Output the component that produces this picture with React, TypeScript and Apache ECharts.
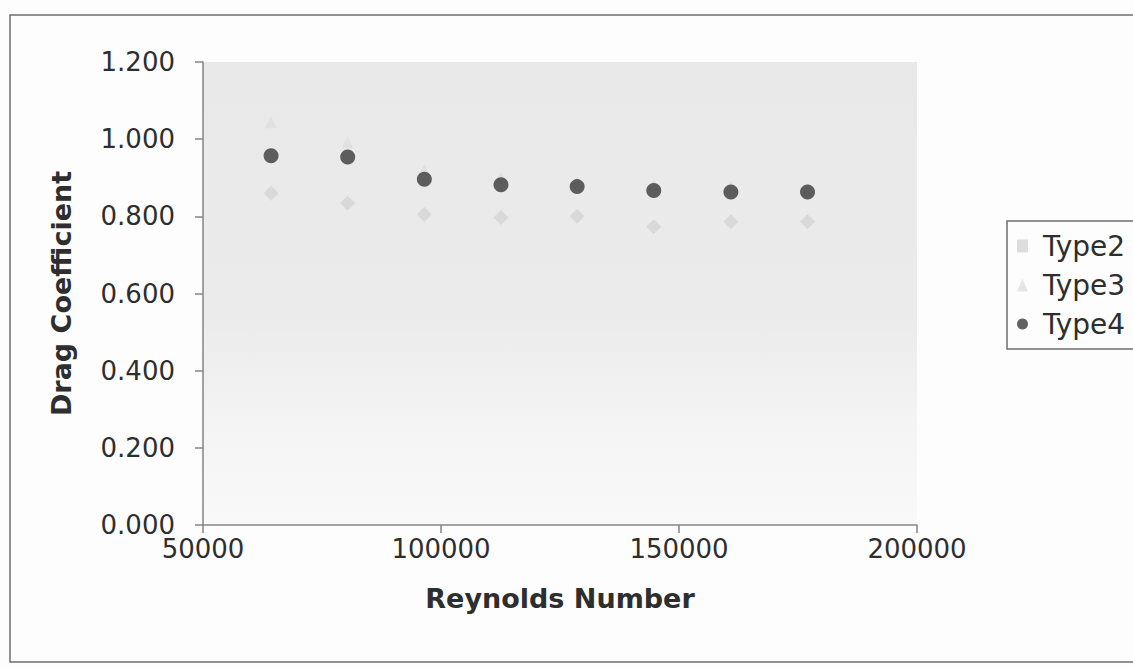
import React, { useEffect, useRef } from "react";
import * as echarts from "echarts";

const reynolds = [64300, 80400, 96500, 112600, 128600, 144700, 160900, 177000];
const type2 = [0.86, 0.834, 0.805, 0.797, 0.8, 0.773, 0.786, 0.786];
const type3 = [1.044, 0.992, 0.92, 0.9, 0.889, 0.881, 0.876, 0.865];
const type4 = [0.957, 0.954, 0.896, 0.882, 0.877, 0.867, 0.863, 0.863];
const seriesNames = ["Type2", "Type3", "Type4"];

const pairs = (ys: number[]) => reynolds.map((x, i) => [x, ys[i]]);

export default function App() {
  const ref = useRef<HTMLDivElement>(null);
  useEffect(() => {
    document.body.style.margin = "0";
    const chart = echarts.init(ref.current!, null, { renderer: "svg" });
    const axisColor = "#858585";
    const textColor = "#2e2e2e";
    const font = "DejaVu Sans";
    chart.setOption({
      animation: false,
      backgroundColor: "#fdfdfd",
      textStyle: { fontFamily: font },
      grid: {
        left: 203,
        top: 62,
        width: 714,
        height: 463,
        show: true,
        borderWidth: 0,
        backgroundColor: new echarts.graphic.LinearGradient(0, 0, 0, 1, [
          { offset: 0, color: "#e9e9e9" },
          { offset: 0.55, color: "#ebebeb" },
          { offset: 0.78, color: "#f4f4f4" },
          { offset: 1, color: "#f9f9f9" },
        ]),
      },
      graphic: [
        {
          type: "rect",
          silent: true,
          shape: { x: 10, y: 15, width: 1140, height: 647 },
          style: { fill: "none", stroke: "#6e6e6e", lineWidth: 1.5 },
        },
        {
          type: "rect",
          silent: true,
          shape: { x: 1007, y: 221, width: 140, height: 128 },
          style: { fill: "#fdfdfd", stroke: "#6e6e6e", lineWidth: 1.5 },
        },
      ],
      legend: {
        orient: "vertical",
        left: 1017,
        top: 231,
        padding: 0,
        itemGap: 9,
        itemWidth: 11,
        itemHeight: 13,
        textStyle: {
          fontFamily: font,
          fontSize: 28,
          lineHeight: 30,
          color: textColor,
          padding: [0, 0, 0, 10],
        },
        data: [
          { name: seriesNames[0], icon: "rect" },
          { name: seriesNames[1], icon: "triangle" },
          { name: seriesNames[2], icon: "circle" },
        ],
      },
      xAxis: {
        type: "value",
        min: 50000,
        max: 200000,
        interval: 50000,
        name: "Reynolds Number",
        nameLocation: "middle",
        nameGap: 60,
        nameTextStyle: { fontFamily: font, fontSize: 27, fontWeight: "bold", color: textColor },
        axisLine: { show: true, lineStyle: { color: axisColor, width: 1.5 } },
        axisTick: { show: true, length: 8, lineStyle: { color: axisColor, width: 1.5 } },
        axisLabel: {
          color: textColor,
          fontSize: 26,
          margin: 11,
          fontFamily: font,
          formatter: (v: number) => String(v),
        },
        splitLine: { show: false },
      },
      yAxis: {
        type: "value",
        min: 0,
        max: 1.2,
        interval: 0.2,
        name: "Drag Coefficient",
        nameLocation: "middle",
        nameGap: 128,
        nameTextStyle: { fontFamily: font, fontSize: 27, fontWeight: "bold", color: textColor },
        axisLine: { show: true, lineStyle: { color: axisColor, width: 1.5 } },
        axisTick: { show: true, length: 8, lineStyle: { color: axisColor, width: 1.5 } },
        axisLabel: {
          color: textColor,
          fontSize: 26,
          margin: 28,
          fontFamily: font,
          formatter: (v: number) => v.toFixed(3),
        },
        splitLine: { show: false },
      },
      series: [
        {
          name: seriesNames[0],
          type: "scatter",
          symbol: "diamond",
          symbolSize: 15,
          itemStyle: { color: "#d4d4d4" },
          data: pairs(type2),
        },
        {
          name: seriesNames[1],
          type: "scatter",
          symbol: "triangle",
          symbolSize: 12,
          itemStyle: { color: "#dedede" },
          data: pairs(type3),
        },
        {
          name: seriesNames[2],
          type: "scatter",
          symbol: "circle",
          symbolSize: 15,
          itemStyle: { color: "#3a3a3a" },
          data: pairs(type4),
        },
      ],
    });
    return () => chart.dispose();
  }, []);
  return <div ref={ref} style={{ width: 1133, height: 667 }} />;
}
